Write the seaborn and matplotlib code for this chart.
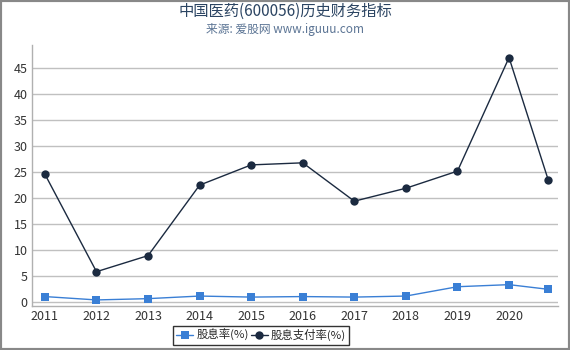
import matplotlib
matplotlib.use('Agg')
import matplotlib.pyplot as plt
import seaborn as sns
import pandas as pd

# data
years = [2011, 2012, 2013, 2014, 2015, 2016, 2017, 2018, 2019, 2020, 2020.76]
tick_years = [2011, 2012, 2013, 2014, 2015, 2016, 2017, 2018, 2019, 2020]
dividend_yield = [1.0, 0.35, 0.6, 1.1, 0.9, 1.0, 0.9, 1.1, 2.9, 3.3, 2.4]
payout_ratio = [24.6, 5.8, 8.9, 22.5, 26.4, 26.8, 19.4, 21.9, 25.2, 47.1, 23.5]


def main():
  sns.set_style('white')
  plt.rcParams['font.family'] = ['Noto Sans CJK SC', 'DejaVu Sans']

  df = pd.DataFrame({'year': years, 'yield': dividend_yield, 'payout': payout_ratio})

  fig = plt.figure(figsize=(5.7, 3.5), dpi=100)
  ax = fig.add_axes([0.056, 0.126, 0.923, 0.745])

  sns.lineplot(data=df, x='year', y='yield', ax=ax, color='#3a7fd5', marker='s',
               markersize=6, markeredgewidth=0, linewidth=1, label='股息率(%)')
  sns.lineplot(data=df, x='year', y='payout', ax=ax, color='#1b2a40', marker='o',
               markersize=6, markeredgewidth=0, linewidth=1, label='股息支付率(%)')

  ax.set_xlim(2010.748, 2020.95)
  ax.set_ylim(-0.8, 49.5)
  ax.set_xticks(tick_years)
  ax.set_xticklabels([str(y) for y in tick_years])
  ax.set_yticks(range(0, 50, 5))
  ax.yaxis.grid(True, color='#c0c0c0', linewidth=1)
  ax.set_axisbelow(True)
  ax.set_xlabel('')
  ax.set_ylabel('')
  for side in ['top', 'right']:
    ax.spines[side].set_visible(False)
  for side in ['left', 'bottom']:
    ax.spines[side].set_color('#b0b0b0')
    ax.spines[side].set_linewidth(1)
  ax.tick_params(axis='both', labelsize=9, colors='#333333', length=0, pad=3)

  # legend sits left of centre in the reference
  ax.legend(loc='upper center', bbox_to_anchor=(0.458, 0.069),
            bbox_transform=fig.transFigure, ncol=2, frameon=True,
            fancybox=False, edgecolor='black', fontsize=8.2, handlelength=1.5,
            columnspacing=0.2, handletextpad=0.25, borderpad=0.3, borderaxespad=0)

  fig.text(0.5, 0.969, '中国医药(600056)历史财务指标', ha='center', va='center',
           fontsize=11, color='#2b4462')
  fig.text(0.5, 0.917, '来源: 爱股网 www.iguuu.com', ha='center', va='center',
           fontsize=8.5, color='#5b7494')

  border = plt.Rectangle((0, 0), 1, 1, transform=fig.transFigure, fill=False,
                         edgecolor='#888888', linewidth=3)
  fig.patches.append(border)

  fig.savefig('out.png', dpi=100)


if __name__ == '__main__':
  main()
